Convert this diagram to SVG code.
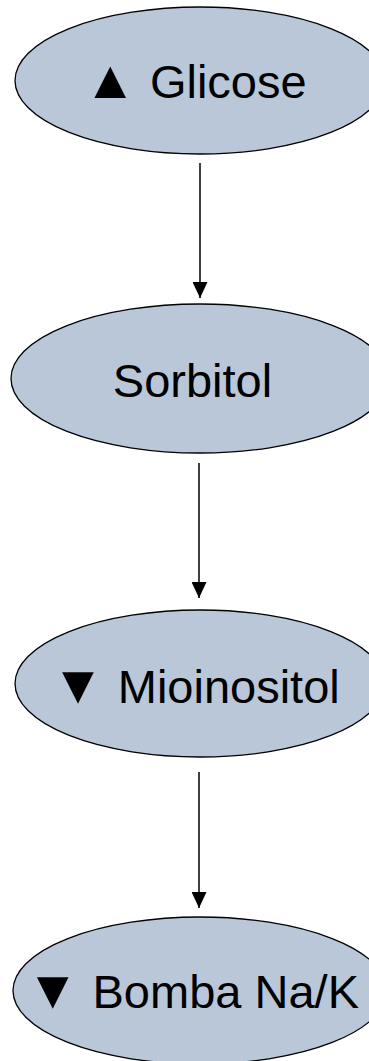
<svg xmlns="http://www.w3.org/2000/svg" width="369" height="1061" viewBox="0 0 369 1061">
<style>
.node ellipse{fill:#B9C7D8;stroke:#000;stroke-width:1.3}
.node text{font-family:"Liberation Sans",Arial,sans-serif;font-size:47px;fill:#000;text-anchor:middle}
.tri{font-size:54px}
.edge{stroke:#000;stroke-width:1.5;fill:none}
</style>
<defs>
<marker id="ah" viewBox="0 0 16 15" refX="16" refY="7.5" markerWidth="16" markerHeight="15" markerUnits="userSpaceOnUse" orient="auto">
<path d="M0,0 L16,7.5 L0,15 Z" fill="#000"/>
</marker>
</defs>
<g id="n1" class="node"><ellipse cx="200" cy="80.5" rx="185" ry="73.5"/><text x="195" y="98"><tspan class="tri">▲</tspan> Glicose</text></g>
<g id="n2" class="node"><ellipse cx="200" cy="378.5" rx="189" ry="74.5"/><text x="192.5" y="397">Sorbitol</text></g>
<g id="n3" class="node"><ellipse cx="200" cy="683.5" rx="185" ry="73.5"/><text x="195.5" y="703"><tspan class="tri">▼</tspan> Mioinositol</text></g>
<g id="n4" class="node"><ellipse cx="200" cy="990.5" rx="187" ry="73.5"/><text x="192.5" y="1008"><tspan class="tri">▼</tspan> Bomba Na/K</text></g>
<g id="edges">
<line class="edge" x1="200" y1="163" x2="200" y2="298" marker-end="url(#ah)"/>
<line class="edge" x1="199" y1="463" x2="199" y2="598" marker-end="url(#ah)"/>
<line class="edge" x1="199" y1="772" x2="199" y2="908" marker-end="url(#ah)"/>
</g>
</svg>
